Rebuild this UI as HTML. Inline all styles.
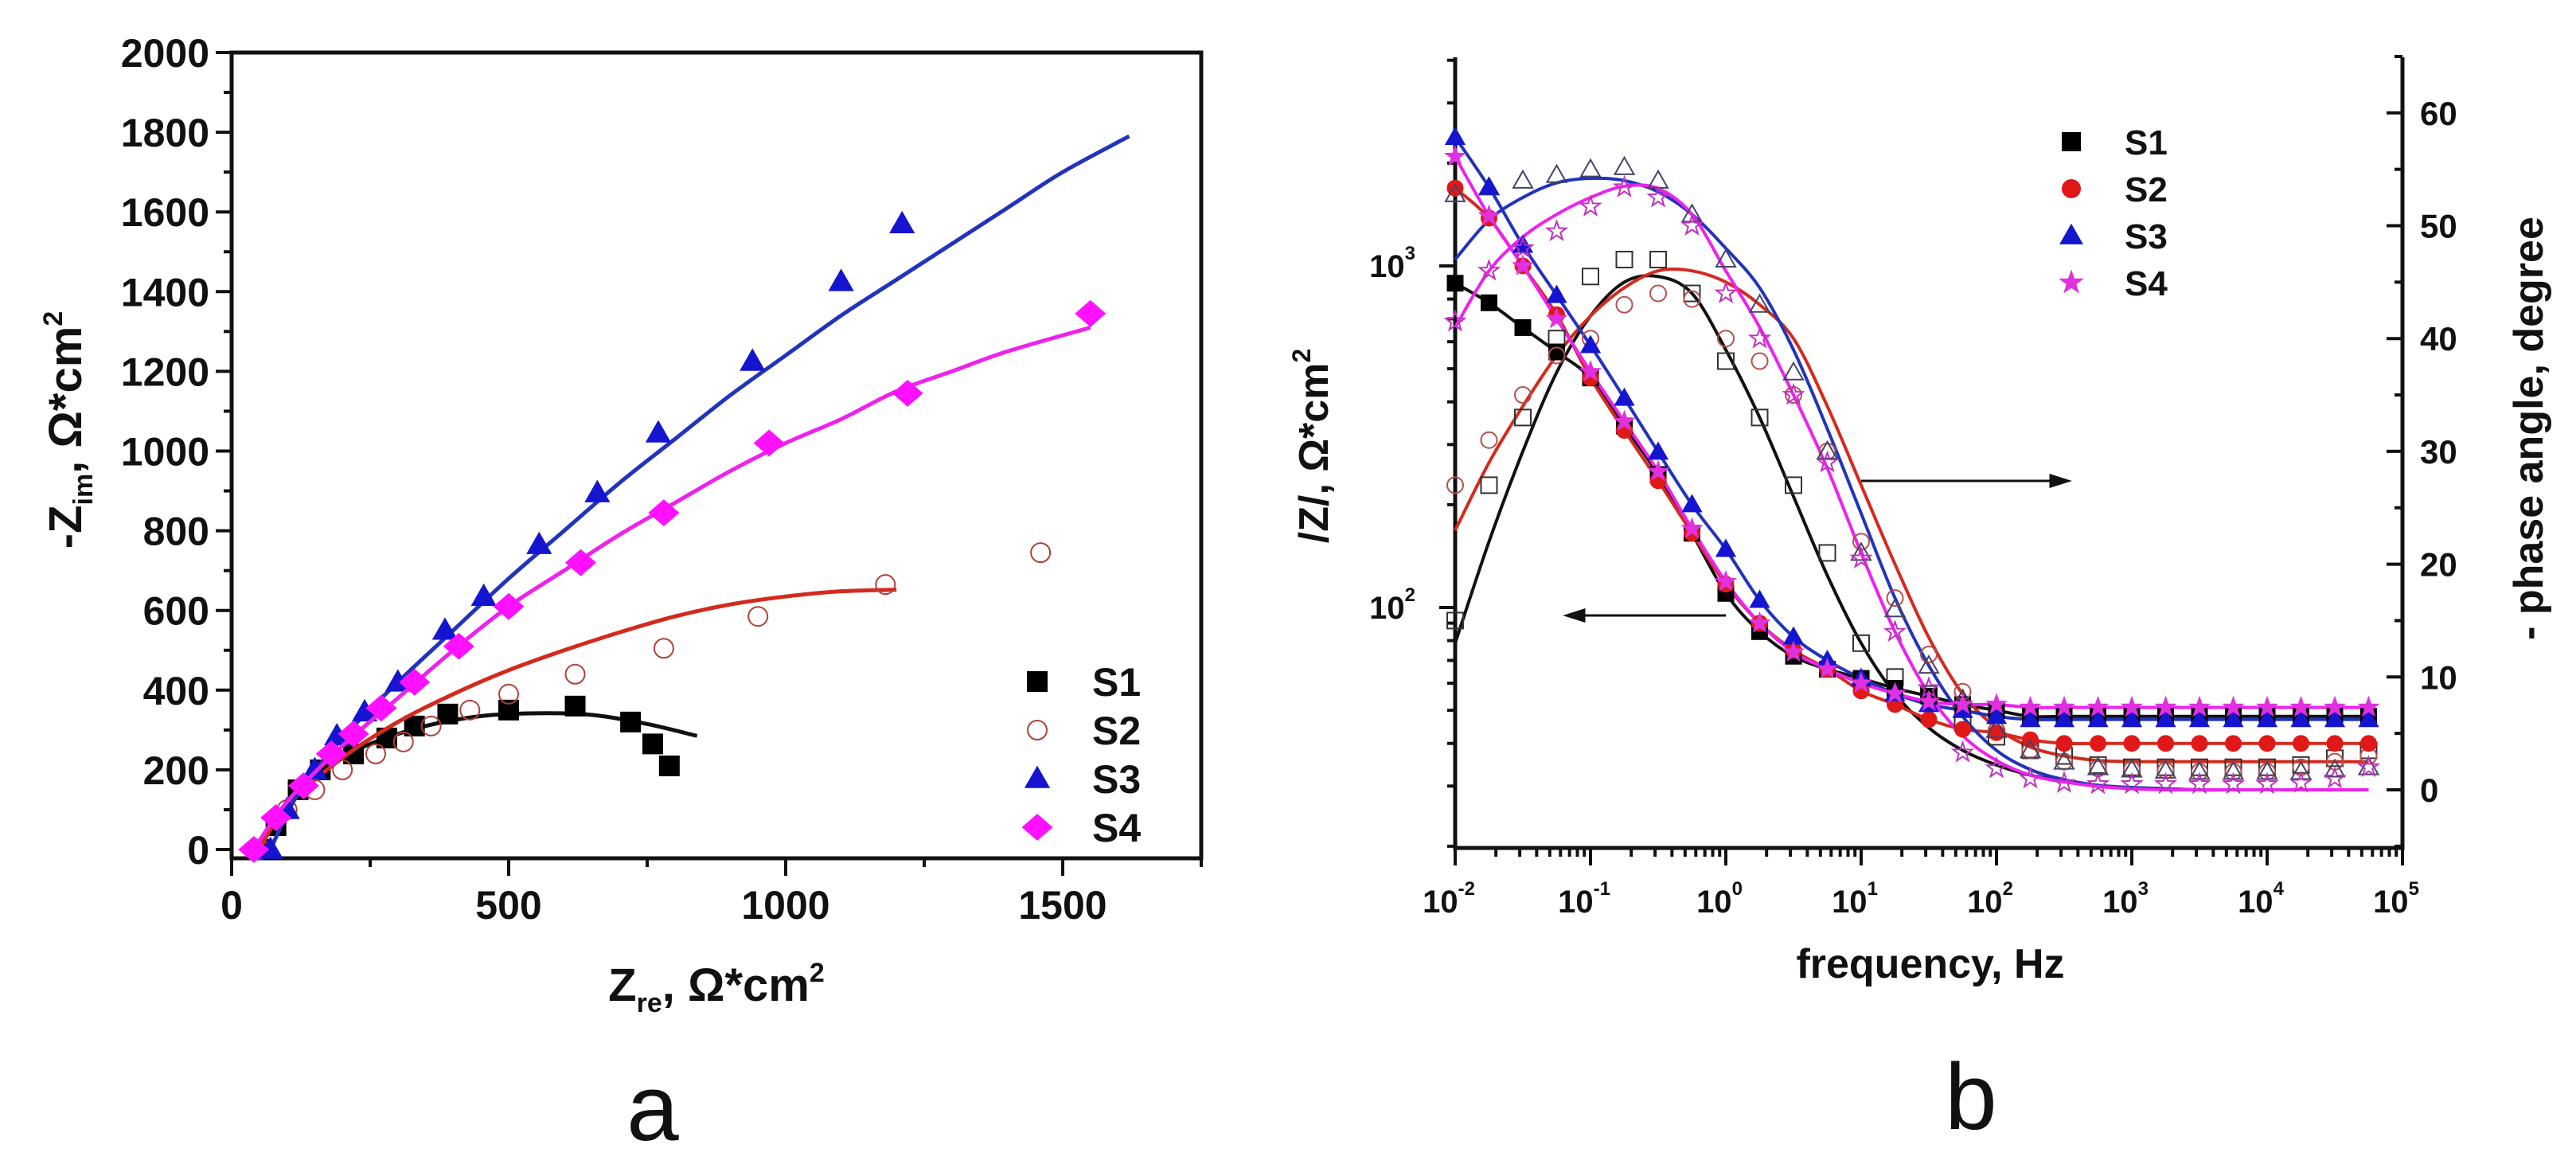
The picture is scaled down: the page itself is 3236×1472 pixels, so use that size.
<!DOCTYPE html>
<html><head><meta charset="utf-8">
<style>
html,body{margin:0;padding:0;background:#fff;}
svg{display:block;font-family:"Liberation Sans",Arial,sans-serif;}
.tk{font-weight:bold;fill:#111;}
</style></head>
<body>
<svg id="fig" width="3236" height="1472" viewBox="0 0 3236 1472" xmlns="http://www.w3.org/2000/svg">
  <g id="panelA"></g>
  <g id="panelB"></g>
  <text x="820" y="1432" font-size="118" text-anchor="middle" fill="#111">a</text>
  <text x="2476" y="1418" font-size="118" text-anchor="middle" fill="#111">b</text>
</svg>
<script>
// ---------- Panel a: Nyquist data ----------
const nyqS1x = [55,80,120,160,220,280,330,390,500,620,720,760,790];
const nyqS1y = [0,60,150,200,240,280,310,340,350,360,320,265,210];
const nyqS2x = [50,100,150,200,260,310,360,430,500,620,780,950,1180,1460];
const nyqS2y = [0,100,150,200,240,270,310,350,390,440,505,585,665,745];
const nyqS3x = [70,100,150,190,240,300,385,455,555,660,770,940,1100,1210];
const nyqS3y = [0,100,200,285,345,420,550,635,765,895,1045,1225,1425,1570];
const nyqS4x = [40,80,130,180,220,270,330,410,500,630,780,970,1220,1550];
const nyqS4y = [0,80,160,240,290,355,420,510,610,720,845,1020,1145,1345];
const fitS1x = [50,80,120,180,250,350,450,550,650,750,840];
const fitS1y = [0,80,150,215,265,310,335,342,338,315,285];
const fitS2x = [50,100,200,300,400,500,600,700,800,900,1000,1100,1200];
const fitS2y = [0,110,230,320,390,450,500,545,585,615,635,648,652];
const fitS3x = [70,120,200,300,400,500,600,700,800,900,1000,1100,1200,1300,1400,1500,1620];
const fitS3y = [0,140,280,420,550,680,800,920,1030,1140,1240,1340,1430,1520,1610,1700,1790];
const fitS4x = [40,100,200,300,400,500,600,700,800,900,1000,1100,1200,1300,1400,1550];
const fitS4y = [0,120,260,380,500,610,700,790,870,950,1020,1080,1150,1200,1250,1310];
const aXTicks = [0,500,1000,1500];
const aYTicks = [0,200,400,600,800,1000,1200,1400,1600,1800,2000];
const seriesNames = ["S1","S2","S3","S4"];

// ---------- Panel b: Bode data (log10 f from -2 to 4.75 step 0.25) ----------
const freqExp = [-2,-1.75,-1.5,-1.25,-1,-0.75,-0.5,-0.25,0,0.25,0.5,0.75,1,1.25,1.5,1.75,2,2.25,2.5,2.75,3,3.25,3.5,3.75,4,4.25,4.5,4.75];
const zS1 = [890,780,660,560,470,340,245,165,110,85,72,66,62,58,55,52,50,48,48,48,48,48,48,48,48,48,48,48];
const zS2 = [1690,1380,1000,720,470,330,235,165,117,90,75,66,57,52,47,44,43,41,40,40,40,40,40,40,40,40,40,40];
const zS3 = [2380,1700,1150,820,585,410,285,200,148,105,82,70,62,56,52,50,48,47,47,47,47,47,47,47,47,47,47,47];
const zS4 = [2090,1400,1000,700,490,350,250,170,119,90,74,66,60,56,53,52,52,51,51,51,51,51,51,51,51,51,51,51];
const phS1 = [15,27,33,40,45.5,47,47,44,38,33,27,21,13,10,8.5,6,4.7,3.5,3,2.2,2,2,2,2,2,2.2,2.8,3.5];
const phS2 = [27,31,35,38.5,40,43,44,43.5,40,38,35,30,22,17,12,8.7,5.3,3.5,2.5,1.9,1.8,1.7,1.6,1.6,1.6,2,2.5,3];
const phS3 = [52.8,53.4,54,54.5,55,55.2,54,51,47,43,37,30,21,16,11,8,5.3,3.5,2.5,2,1.8,1.7,1.6,1.6,1.6,1.6,1.8,2];
const phS4 = [41.5,46,48,49.5,51.7,53.4,52.5,50,44,40,35,29,20.5,14,9,3.3,1.9,1,0.6,0.5,0.5,0.5,0.5,0.5,0.5,0.6,1,2];
const phFitS1 = [13,22,30,37,42,45,45.5,44,39,33,26,19,13,8.5,5.5,3.5,2.2,1.3,0.8,0.4,0.2,0.1,0,0,0,0,0,0];
const phFitS2 = [23,29,34,38.5,42,44.5,46,46,45,43,40,34,27,20,13.5,8.5,5.5,3.8,3,2.6,2.5,2.5,2.5,2.5,2.5,2.5,2.5,2.5];
const phFitS3 = [47,50.5,52.5,53.8,54.2,54,53,51,48,44.5,39,32,24.5,17,11,6.5,3.5,1.8,0.9,0.4,0.2,0.1,0,0,0,0,0,0];
const phFitS4 = [41,46,49,51,52.5,53.5,53.3,51,46,41,35,28.5,21,14,8.5,4.8,2.6,1.3,0.7,0.3,0.1,0,0,0,0,0,0,0];
const bXTickExp = [-2,-1,0,1,2,3,4,5];
const bZTickExp = [2,3];
const bPhTicks = [0,10,20,30,40,50,60];

const NS="http://www.w3.org/2000/svg";
function mk(parent,tag,attrs,txt){const e=document.createElementNS(NS,tag);for(const k in attrs)e.setAttribute(k,attrs[k]);if(txt!==undefined)e.textContent=txt;parent.appendChild(e);return e;}
function smooth(pts){if(pts.length<2)return"";let d="M"+pts[0][0]+","+pts[0][1];for(let i=0;i<pts.length-1;i++){const p0=pts[i-1]||pts[i],p1=pts[i],p2=pts[i+1],p3=pts[i+2]||p2;const c1=[p1[0]+(p2[0]-p0[0])/6,p1[1]+(p2[1]-p0[1])/6],c2=[p2[0]-(p3[0]-p1[0])/6,p2[1]-(p3[1]-p1[1])/6];d+="C"+c1[0]+","+c1[1]+" "+c2[0]+","+c2[1]+" "+p2[0]+","+p2[1];}return d;}
function marker(g,shape,x,y,s,fill,stroke){let e;
  if(shape==="square")e=mk(g,"rect",{x:x-s/2,y:y-s/2,width:s,height:s,fill:fill,stroke:stroke,"stroke-width":2});
  else if(shape==="circle")e=mk(g,"circle",{cx:x,cy:y,r:s/2,fill:fill,stroke:stroke,"stroke-width":2});
  else if(shape==="triangle")e=mk(g,"polygon",{points:`${x},${y-s*0.6} ${x-s*0.6},${y+s*0.45} ${x+s*0.6},${y+s*0.45}`,fill:fill,stroke:stroke,"stroke-width":2});
  else if(shape==="diamond")e=mk(g,"polygon",{points:`${x},${y-s*0.65} ${x+s*0.75},${y} ${x},${y+s*0.65} ${x-s*0.75},${y}`,fill:fill,stroke:stroke,"stroke-width":2});
  else {let p=[];for(let i=0;i<10;i++){const r=i%2?s*0.25:s*0.62,a=-Math.PI/2+i*Math.PI/5;p.push((x+r*Math.cos(a)).toFixed(1)+","+(y+r*Math.sin(a)).toFixed(1));}e=mk(g,"polygon",{points:p.join(" "),fill:fill,stroke:stroke,"stroke-width":2});}
  return e;}

// ===== Panel A =====
const A=document.getElementById("panelA");
const aL=291,aR=1509,aT=66,aB=1078;
const ax=v=>aL+v*0.696, ay=v=>1067-v*0.5005;
const aFrame=mk(A,"rect",{x:aL,y:aT,width:aR-aL,height:aB-aT,fill:"none",stroke:"#111","stroke-width":5});


for(let v=0;v<=2000;v+=100){const big=v%200===0;mk(A,"line",{x1:aL-(big?20:10),x2:aL,y1:ay(v),y2:ay(v),stroke:"#111","stroke-width":4});}
for(let v=0;v<=1750;v+=250){const big=v%500===0;mk(A,"line",{x1:ax(v),x2:ax(v),y1:aB,y2:aB+(big?22:11),stroke:"#111","stroke-width":4});}
aYTicks.forEach(v=>{const t=mk(A,"text",{x:aL-28,y:ay(v)+18,"font-size":50,"text-anchor":"end",class:"tk"},String(v));

});
aXTicks.forEach(v=>{const t=mk(A,"text",{x:ax(v),y:1154,"font-size":50,"text-anchor":"middle",class:"tk"},String(v));

});
const aXT=mk(A,"text",{x:900,y:1257,"font-size":58,"text-anchor":"middle",class:"tk"});


aXT.innerHTML='Z<tspan font-size="34" dy="14">re</tspan><tspan dy="-14">, Ω*cm</tspan><tspan font-size="34" dy="-24">2</tspan>';
const aYT=mk(A,"text",{x:0,y:0,"font-size":58,"text-anchor":"middle",class:"tk",transform:"translate(102,540) rotate(-90)"});


aYT.innerHTML='-Z<tspan font-size="34" dy="14">im</tspan><tspan dy="-14">, Ω*cm</tspan><tspan font-size="34" dy="-24">2</tspan>';

const aSeries=[
 {n:"S1",x:nyqS1x,y:nyqS1y,fx:fitS1x,fy:fitS1y,sh:"square",fill:"#000",st:"#000",lc:"#111"},
 {n:"S2",x:nyqS2x,y:nyqS2y,fx:fitS2x,fy:fitS2y,sh:"circle",fill:"none",st:"#b0403a",lc:"#d42a1e"},
 {n:"S3",x:nyqS3x,y:nyqS3y,fx:fitS3x,fy:fitS3y,sh:"triangle",fill:"#1515d0",st:"#1515d0",lc:"#2233bb"},
 {n:"S4",x:nyqS4x,y:nyqS4y,fx:fitS4x,fy:fitS4y,sh:"diamond",fill:"#ff10ff",st:"#ff10ff",lc:"#ee22ee"}];
aSeries.forEach(s=>{
 const p=mk(A,"path",{d:smooth(s.fx.map((v,i)=>[ax(v),ay(s.fy[i])])),fill:"none",stroke:s.lc,"stroke-width":5});
 
 
 s.x.forEach((v,i)=>{const m=marker(A,s.sh,ax(v),ay(s.y[i]),24,s.fill,s.st);
 
 });
});
aSeries.forEach((s,i)=>{const y=856+i*61;
 const m=marker(A,s.sh,1303,y,24,s.fill,s.st);
 
 
 const t=mk(A,"text",{x:1372,y:y+18,"font-size":50,class:"tk"},seriesNames[i]);
 
 });

// ===== Panel B =====
const B=document.getElementById("panelB");
const bL=1828,bR=3018,bT=72,bB=1065;
const bx=e=>bL+(e+2)*170;
const bz=v=>334-(Math.log10(v)-3)*429;
const bp=v=>992-v*14.17;
const bFrame=mk(B,"path",{d:`M${bL},${bT}V${bB}H${bR}V${bT}`,fill:"none",stroke:"#111","stroke-width":5});


for(let d=-2;d<5;d++){for(let k=1;k<=9;k++){const x=bx(d+Math.log10(k));mk(B,"line",{x1:x,x2:x,y1:bB,y2:bB+(k===1?22:11),stroke:"#111","stroke-width":4});}}
mk(B,"line",{x1:bx(5),x2:bx(5),y1:bB,y2:bB+22,stroke:"#111","stroke-width":4});
for(let d=1;d<4;d++){for(let k=1;k<=9;k++){const v=k*Math.pow(10,d);const y=bz(v);if(y<bT||y>bB)continue;mk(B,"line",{x1:bL-(k===1?20:10),x2:bL,y1:y,y2:y,stroke:"#111","stroke-width":4});}}
for(let v=-5;v<=65;v+=5){mk(B,"line",{x1:bR-(v%10===0?20:10),x2:bR,y1:bp(v),y2:bp(v),stroke:"#111","stroke-width":4});}
bXTickExp.forEach(e=>{const t=mk(B,"text",{x:bx(e)-8,y:1146,"font-size":40,"text-anchor":"middle",class:"tk"});


t.innerHTML='10<tspan font-size="24" dy="-22">'+e+'</tspan>';});
bZTickExp.forEach(e=>{const t=mk(B,"text",{x:bL-50,y:bz(Math.pow(10,e))+14,"font-size":40,"text-anchor":"end",class:"tk"});


t.innerHTML='10<tspan font-size="24" dy="-22">'+e+'</tspan>';});
bPhTicks.forEach(v=>{const t=mk(B,"text",{x:bR+22,y:bp(v)+15,"font-size":42,class:"tk"},String(v));

});
const bXT=mk(B,"text",{x:2425,y:1228,"font-size":52,"text-anchor":"middle",class:"tk"},"frequency, Hz");


const bYT=mk(B,"text",{x:0,y:0,"font-size":52,"text-anchor":"middle",class:"tk",transform:"translate(1668,560) rotate(-90)"});


bYT.innerHTML='/Z/, Ω*cm<tspan font-size="32" dy="-22">2</tspan>';
const bRT=mk(B,"text",{x:0,y:0,"font-size":52,"text-anchor":"middle",class:"tk",transform:"translate(3194,538) rotate(-90)"},"- phase angle, degree");



const bSeries=[
 {n:"S1",z:zS1,p:phS1,pf_:phFitS1,sh:"square",zf:"#000",zs:"#000",pf:"#fff",ps:"#333",lc:"#111"},
 {n:"S2",z:zS2,p:phS2,pf_:phFitS2,sh:"circle",zf:"#e01818",zs:"#e01818",pf:"#fff",ps:"#b35050",lc:"#d42a1e"},
 {n:"S3",z:zS3,p:phS3,pf_:phFitS3,sh:"triangle",zf:"#1515d0",zs:"#1515d0",pf:"#fff",ps:"#444466",lc:"#2233bb"},
 {n:"S4",z:zS4,p:phS4,pf_:phFitS4,sh:"star",zf:"#e030e0",zs:"#e030e0",pf:"#f6c8f6",ps:"#c030c0",lc:"#ee22ee"}];
bSeries.forEach(s=>{
 const zp=mk(B,"path",{d:smooth(freqExp.map((e,i)=>[bx(e),bz(s.z[i])])),fill:"none",stroke:s.lc,"stroke-width":4});
 
 
 const pp=mk(B,"path",{d:smooth(freqExp.map((e,i)=>[bx(e),bp(s.pf_[i])])),fill:"none",stroke:s.lc,"stroke-width":4});
 
 
});
bSeries.forEach(s=>{
 freqExp.forEach((e,i)=>{
  const m1=marker(B,s.sh,bx(e),bp(s.p[i]),20,"none",s.ps);
  
  
  const m2=marker(B,s.sh,bx(e),bz(s.z[i]),19,s.zf,s.zs);
  
  
 });
});
const arR=mk(B,"path",{d:"M2338,604H2598M2598,604l-22,-7v14z",stroke:"#111","stroke-width":3,fill:"#111"});


const arL=mk(B,"path",{d:"M2168,773H1968M1968,773l22,-7v14z",stroke:"#111","stroke-width":3,fill:"#111"});


bSeries.forEach((s,i)=>{const y=178+i*59;
 const m=marker(B,s.sh,2602,y,22,s.zf,s.zs);
 
 
 const t=mk(B,"text",{x:2669,y:y+16,"font-size":44,class:"tk"},seriesNames[i]);
 
 });
</script>
</body></html>
